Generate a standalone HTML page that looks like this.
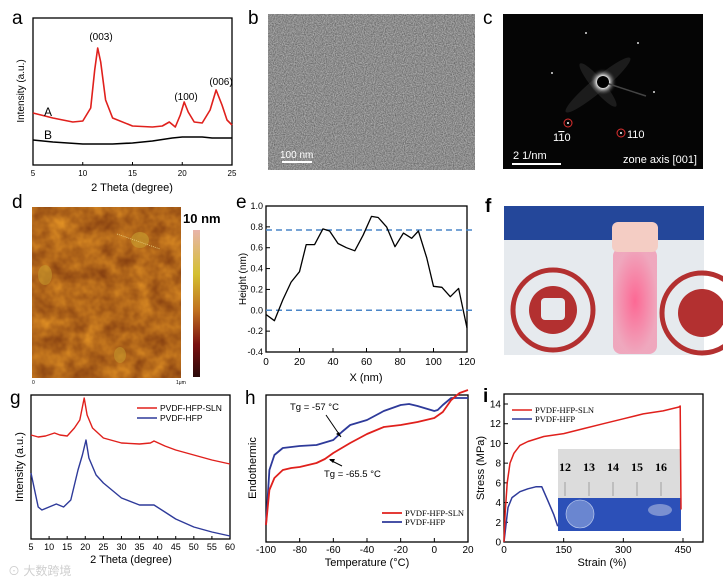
<!DOCTYPE html>
<html><head><meta charset="utf-8"><style>
html,body{margin:0;padding:0;background:#fff;}
svg{display:block;font-family:"Liberation Sans","Noto Sans CJK SC",sans-serif;}
.serif{font-family:"Liberation Serif",serif;}
</style></head><body>
<svg id="fig" width="723" height="579" viewBox="0 0 723 579" xmlns="http://www.w3.org/2000/svg">
<defs>
<filter id="nb" x="0" y="0" width="100%" height="100%" color-interpolation-filters="sRGB"><feTurbulence type="fractalNoise" baseFrequency="0.9" numOctaves="2" seed="3"/><feColorMatrix type="matrix" values="0.5 0 0 0 0.3  0.5 0 0 0 0.3  0.5 0 0 0 0.3  0 0 0 0 1"/></filter>
<filter id="nd" x="0" y="0" width="100%" height="100%" color-interpolation-filters="sRGB"><feTurbulence type="fractalNoise" baseFrequency="0.06" numOctaves="3" seed="7"/><feColorMatrix type="matrix" values="0.45 0 0 0 0.47  0.4 0 0 0 0.2  0.1 0 0 0 0.05  0 0 0 0 1"/></filter>
<linearGradient id="cb" x1="0" y1="0" x2="0" y2="1"><stop offset="0" stop-color="#e8b4aa"/><stop offset="0.3" stop-color="#d4c030"/><stop offset="0.55" stop-color="#c07020"/><stop offset="0.78" stop-color="#7a1010"/><stop offset="1" stop-color="#2a0a0a"/></linearGradient>
<radialGradient id="glow"><stop offset="0.4" stop-color="#fff"/><stop offset="1" stop-color="#000" stop-opacity="0"/></radialGradient>
<radialGradient id="pinkg"><stop offset="0" stop-color="#ff5a8a"/><stop offset="1" stop-color="#f0a0b8"/></radialGradient>
</defs>

<g font-size="19">
<text x="12" y="24">a</text>
<text x="248" y="24">b</text>
<text x="483" y="24">c</text>
<text x="12" y="208">d</text>
<text x="236" y="208">e</text>
<text x="485" y="212" font-weight="bold">f</text>
<text x="10" y="404">g</text>
<text x="245" y="404">h</text>
<text x="483" y="402" font-weight="bold">i</text>
</g>

<g>
<rect x="268" y="14" width="207" height="156" filter="url(#nb)"/>
<text x="280" y="158" fill="#fff" font-size="10">100 nm</text>
<rect x="282" y="161" width="30" height="2" fill="#fff"/>
</g>

<g>
<rect x="503" y="14" width="200" height="155" fill="#050505"/>
<ellipse cx="598" cy="85" rx="42" ry="7" fill="#777" opacity="0.2" transform="rotate(-40 598 85)"/>
<ellipse cx="598" cy="85" rx="28" ry="6" fill="#777" opacity="0.2" transform="rotate(50 598 85)"/>
<circle cx="603" cy="82" r="14" fill="url(#glow)"/>
<line x1="603" y1="82" x2="646" y2="96" stroke="#444" stroke-width="1.5"/>
<circle cx="603" cy="82" r="6" fill="#000"/>
<circle cx="586" cy="33" r="1" fill="#ddd"/><circle cx="638" cy="43" r="1" fill="#ddd"/><circle cx="552" cy="73" r="1" fill="#ddd"/><circle cx="654" cy="92" r="1" fill="#ddd"/>
<circle cx="568" cy="123" r="4" fill="none" stroke="#e03030"/><circle cx="568" cy="123" r="1" fill="#fff"/>
<circle cx="621" cy="133" r="4" fill="none" stroke="#e03030"/><circle cx="621" cy="133" r="1" fill="#fff"/>
<text x="553" y="141" fill="#fff" font-size="11">1<tspan text-decoration="overline">1</tspan>0</text>
<text x="627" y="138" fill="#fff" font-size="11">110</text>
<text x="513" y="159" fill="#fff" font-size="11">2  1/nm</text>
<rect x="512" y="163" width="49" height="2" fill="#fff"/>
<text x="697" y="163" fill="#fff" font-size="11" text-anchor="end">zone axis [001]</text>
</g>

<g>
<rect x="32" y="207" width="149" height="171" filter="url(#nd)"/>
<ellipse cx="140" cy="240" rx="9" ry="8" fill="#c8a030" opacity="0.6"/>
<ellipse cx="45" cy="275" rx="7" ry="10" fill="#c8a030" opacity="0.5"/>
<ellipse cx="120" cy="355" rx="6" ry="8" fill="#c8a030" opacity="0.5"/>
<line x1="117" y1="234" x2="160" y2="249" stroke="#e8d080" stroke-width="0.8" stroke-dasharray="1 1"/>
<text x="32" y="384" font-size="5">0</text><text x="176" y="384" font-size="5">1μm</text>
<rect x="193" y="230" width="7" height="147" fill="url(#cb)"/>
<text x="183" y="223" font-size="13" font-weight="bold">10 nm</text>
</g>

<g>
<rect x="504" y="206" width="200" height="149" fill="#e6eaee"/>
<rect x="504" y="206" width="200" height="34" fill="#24479a"/>
<circle cx="553" cy="310" r="40" fill="none" stroke="#b33030" stroke-width="5"/>
<circle cx="553" cy="310" r="24" fill="#b33030"/>
<rect x="541" y="298" width="24" height="22" fill="#e6eaee" rx="4"/>
<circle cx="702" cy="313" r="40" fill="none" stroke="#b33030" stroke-width="5"/>
<circle cx="702" cy="313" r="24" fill="#b33030"/>
<rect x="613" y="248" width="44" height="106" rx="8" fill="url(#pinkg)" opacity="0.9"/>
<rect x="612" y="222" width="46" height="30" rx="6" fill="#f4cdc4"/>
</g>

<g id="charts"></g>
</svg>

<script>
const aRedX = [5,7,9,10,10.8,11.2,11.5,11.8,12.3,13,15,17,18,18.7,19.3,19.8,20.2,20.6,21.2,22,22.8,23.4,24,24.5,25];
const aRedY = [52,47,43,44,57,95,117,103,65,47,39,38,39,43,38,50,63,53,43,42,55,75,60,45,40];
const aBlkX = [5,7,10,13,15,17,19,20,21,22,23,25];
const aBlkY = [25,23,21,21,22,24,27,28,28,28,27,27];
const aXTicks = [5,10,15,20,25];
const eX = [0,5,10,15,20,24,29,34,38,43,48,53,58,63,67,72,77,82,87,91,96,100,105,110,115,120];
const eY = [-0.04,-0.1,0.1,0.27,0.37,0.63,0.63,0.78,0.76,0.64,0.6,0.57,0.72,0.9,0.89,0.8,0.61,0.74,0.69,0.76,0.5,0.23,0.22,0.13,0.21,-0.17];
const eRefLines = [0.77,0];
const eXTicks = [0,20,40,60,80,100,120];
const eYTicks = [-0.4,-0.2,0.0,0.2,0.4,0.6,0.8,1.0];
const gRedX = [5,7,9,11.5,13,15,17,18.5,19.7,20.5,22,25,30,35,38,39,42,45,50,55,60];
const gRedY = [104,102,103,106,104,103,111,119,141,124,111,101,96,95,96,98,93,89,84,79,75];
const gBlueX = [5,6,7,8,10,12,14,16,18,19.2,20.2,21,23,25,30,35,37,39,42,45,50,55,60];
const gBlueY = [66,49,32,29,32,35,32,39,69,84,99,81,64,56,41,34,34,34,27,20,12,7,3];
const gXTicks = [5,10,15,20,25,30,35,40,45,50,55,60];
const hRedT = [-100,-98,-95,-90,-85,-80,-70,-65,-60,-50,-40,-30,-20,-10,0,5,10,15,20];
const hRedV = [17,52,64,72,74,75,79,83,89,99,108,115,117,120,124,130,142,149,152];
const hBlueT = [-100,-98,-95,-90,-85,-80,-70,-60,-55,-50,-40,-30,-20,-15,-10,0,2,5,10,15,20];
const hBlueV = [17,72,87,94,95,96,97,102,110,117,122,131,137,138,136,131,132,137,144,144,144];
const hXTicks = [-100,-80,-60,-40,-20,0,20];
const iRedX = [0,3,8,15,25,40,60,100,150,200,250,300,350,400,440,443,445];
const iRedY = [0,3,6,8,9,9.8,10.2,10.7,11,11.5,12,12.5,13,13.3,13.7,13.8,3.3];
const iBlueX = [0,10,20,40,60,80,95,110,125,135];
const iBlueY = [0,3.5,4.5,5.1,5.4,5.6,5.6,4.2,2.8,1.6];
const iXTicks = [0,150,300,450];
const iYTicks = [0,2,4,6,8,10,12,14];

const NS = "http://www.w3.org/2000/svg";
const root = document.getElementById('charts');
function el(tag, attrs, parent){ const e=document.createElementNS(NS,tag); for(const k in attrs) e.setAttribute(k,attrs[k]); (parent||root).appendChild(e); return e; }
function lin(d0,d1,r0,r1){ return v => r0 + (v-d0)/(d1-d0)*(r1-r0); }
function pathOf(xs,ys,sx,sy){ return xs.map((x,i)=>(i?'L':'M')+sx(x).toFixed(1)+','+sy(ys[i]).toFixed(1)).join(''); }
function txt(x,y,s,size,anchor,parent,extra){ const t=el('text',Object.assign({x:x,y:y,'font-size':size,'text-anchor':anchor||'start'},extra||{}),parent); t.textContent=s; return t; }
function box(x0,y0,x1,y1,name){ const r=el('rect',{x:x0,y:y0,width:x1-x0,height:y1-y0,fill:'none',stroke:'#000','stroke-width':1.3});


return r; }
function series(xs,ys,sx,sy,color,w,name){ const p=el('path',{d:pathOf(xs,ys,sx,sy),fill:'none',stroke:color,'stroke-width':w,'stroke-linejoin':'round'});


return p; }

{ const sx=lin(5,25,33,232), sy=lin(0,147,165,18);
  box(33,18,232,165,'plot-area-a');
  aXTicks.forEach(v=>{ el('line',{x1:sx(v),y1:165,x2:sx(v),y2:162,stroke:'#000'}); const t=txt(sx(v),176,String(v),8,'middle');
    
     });
  series(aRedX,aRedY,sx,sy,'#e0201c',1.6,'series-a');
  series(aBlkX,aBlkY,sx,sy,'#000',1.6,'series-b');
  let t=txt(132,191,'2 Theta (degree)',11,'middle');  
  t=txt(0,0,'Intensity (a.u.)',10,'middle',null,{transform:'translate(24,91) rotate(-90)'});  
  t=txt(101,40,'(003)',10,'middle');  
  t=txt(186,100,'(100)',10,'middle');  
  t=txt(221,85,'(006)',10,'middle');  
  t=txt(44,116,'A',12,'start');  
  t=txt(44,139,'B',12,'start');  
}
{ const sx=lin(0,120,266,467), sy=lin(-0.4,1.0,352,206);
  box(266,206,467,352,'plot-area-e');
  eXTicks.forEach(v=>{ el('line',{x1:sx(v),y1:352,x2:sx(v),y2:348,stroke:'#000'}); const t=txt(sx(v),365,String(v),10,'middle');
      });
  eYTicks.forEach(v=>{ el('line',{x1:266,y1:sy(v),x2:270,y2:sy(v),stroke:'#000'}); const t=txt(263,sy(v)+3,v.toFixed(1),9,'end');
      });
  eRefLines.forEach(v=>{ const l=el('line',{x1:266,y1:sy(v),x2:472,y2:sy(v),stroke:'#4a86c8','stroke-width':1.5,'stroke-dasharray':'6 4'});
      });
  series(eX,eY,sx,sy,'#000',1.3,'height-profile');
  let t=txt(366,381,'X (nm)',11,'middle');  
  t=txt(0,0,'Height (nm)',10,'middle',null,{transform:'translate(246,279) rotate(-90)'});  
}
{ const sx=lin(5,60,31,230), sy=lin(0,144,539,395);
  box(31,395,230,539,'plot-area-g');
  gXTicks.forEach(v=>{ el('line',{x1:sx(v),y1:539,x2:sx(v),y2:536,stroke:'#000'}); const t=txt(sx(v),550,String(v),9,'middle');
      });
  series(gRedX,gRedY,sx,sy,'#e0201c',1.4,'series-pvdf-hfp-sln-g');
  series(gBlueX,gBlueY,sx,sy,'#2e3a9a',1.4,'series-pvdf-hfp-g');
  el('line',{x1:137,y1:408,x2:157,y2:408,stroke:'#e0201c','stroke-width':1.5});
  let t=txt(160,411,'PVDF-HFP-SLN',8.5,'start');  
  el('line',{x1:137,y1:418,x2:157,y2:418,stroke:'#2e3a9a','stroke-width':1.5});
  t=txt(160,421,'PVDF-HFP',8.5,'start');  
  t=txt(131,563,'2 Theta (degree)',11,'middle');  
  t=txt(0,0,'Intensity (a.u.)',11,'middle',null,{transform:'translate(23,467) rotate(-90)'});  
  t=txt(8,575,'⊙ 大数跨境',12,'start',null,{fill:'#cfcfcf'});  
}
{ const sx=lin(-100,20,266,468), sy=lin(0,147,542,395);
  box(266,395,468,542,'plot-area-h');
  hXTicks.forEach(v=>{ el('line',{x1:sx(v),y1:542,x2:sx(v),y2:538,stroke:'#000'}); const t=txt(sx(v),553,String(v),10,'middle');
      });
  series(hBlueT,hBlueV,sx,sy,'#2e3a9a',1.8,'series-pvdf-hfp-h');
  series(hRedT,hRedV,sx,sy,'#e0201c',1.8,'series-pvdf-hfp-sln-h');
  el('line',{x1:326,y1:415,x2:341,y2:437,stroke:'#000'}); el('path',{d:'M341,437 L336,434 L339,432 Z',fill:'#000'});
  el('line',{x1:342,y1:466,x2:330,y2:460,stroke:'#000'}); el('path',{d:'M329,459 L335,459 L333,463 Z',fill:'#000'});
  let t=txt(290,410,'Tg = -57 °C',9.5,'start');  
  t=txt(324,477,'Tg = -65.5 °C',9.5,'start');  
  el('line',{x1:382,y1:513,x2:402,y2:513,stroke:'#e0201c','stroke-width':1.8});
  t=txt(405,516,'PVDF-HFP-SLN',8.5,'start',null,{'class':'serif'});  
  el('line',{x1:382,y1:522,x2:402,y2:522,stroke:'#2e3a9a','stroke-width':1.8});
  t=txt(405,525,'PVDF-HFP',8.5,'start',null,{'class':'serif'});  
  t=txt(367,566,'Temperature (°C)',11,'middle');  
  t=txt(0,0,'Endothermic',11,'middle',null,{transform:'translate(256,468) rotate(-90)'});  
}
{ const sx=lin(0,450,504,683), sy=lin(0,14,542,404);
  box(504,394,703,542,'plot-area-i');
  iXTicks.forEach(v=>{ el('line',{x1:sx(v),y1:542,x2:sx(v),y2:538,stroke:'#000'}); const t=txt(sx(v),553,String(v),10,'middle');
      });
  iYTicks.forEach(v=>{ el('line',{x1:504,y1:sy(v),x2:508,y2:sy(v),stroke:'#000'}); const t=txt(501,sy(v)+3.5,String(v),10,'end');
      });
  const ig=el('g',{});
  
  
  el('rect',{x:558,y:449,width:123,height:49,fill:'#dcdcdc'},ig);
  el('rect',{x:558,y:498,width:123,height:33,fill:'#2c50b8'},ig);
  el('circle',{cx:580,cy:514,r:14,fill:'#6a86d0',stroke:'#c8d4f0','stroke-width':0.6},ig);
  el('ellipse',{cx:660,cy:510,rx:12,ry:6,fill:'#7a90d0'},ig);
  ['12','13','14','15','16'].forEach((s,k)=>{ txt(565+k*24,471,s,12,'middle',ig,{'font-weight':'bold','class':'serif'}); el('line',{x1:565+k*24,y1:482,x2:565+k*24,y2:496,stroke:'#777','stroke-width':0.6},ig); });
  series(iBlueX,iBlueY,sx,sy,'#2e3a9a',1.5,'series-pvdf-hfp-i');
  series(iRedX,iRedY,sx,sy,'#e0201c',1.5,'series-pvdf-hfp-sln-i');
  el('line',{x1:512,y1:410,x2:532,y2:410,stroke:'#e0201c','stroke-width':1.5});
  let t=txt(535,413,'PVDF-HFP-SLN',8.5,'start',null,{'class':'serif'});  
  el('line',{x1:512,y1:419,x2:532,y2:419,stroke:'#2e3a9a','stroke-width':1.5});
  t=txt(535,422,'PVDF-HFP',8.5,'start',null,{'class':'serif'});  
  t=txt(602,566,'Strain (%)',11,'middle');  
  t=txt(0,0,'Stress (MPa)',11,'middle',null,{transform:'translate(484,468) rotate(-90)'});  
}
</script>
</body></html>
